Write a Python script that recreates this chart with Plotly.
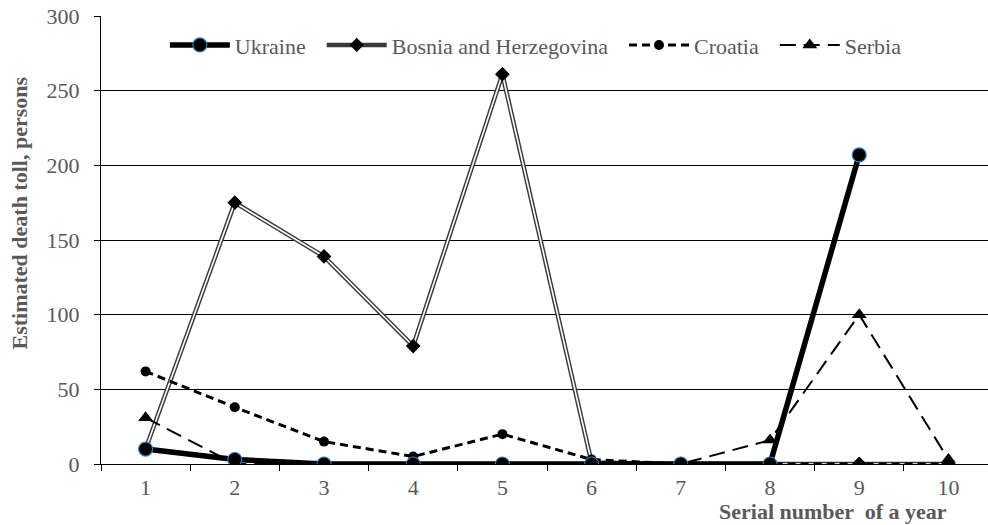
import plotly.graph_objects as go

# Serial number of a year
years = ["1", "2", "3", "4", "5", "6", "7", "8", "9", "10"]

# Estimated death toll, persons
ukraine = [10, 3, 0, 0, 0, 0, 0, 0, 207, None]
bosnia = [10, 175, 139, 79, 261, 1, 0, 0, 0, 0]
croatia = [62, 38, 15, 5, 20, 3, 0, 0, 0, 0]
serbia = [31, 0, 0, 0, 0, 0, 0, 16, 100, 3]

y_ticks = [0, 50, 100, 150, 200, 250, 300]

SERIF = "Liberation Serif, Times New Roman, serif"
GREY = "#595959"
FS = 22
PAD = "\u00a0\u00a0"  # extra spacing between legend entries

fig = go.Figure()

# Bosnia and Herzegovina: double line (dark outer stroke + white core)
fig.add_trace(go.Scatter(
    x=years, y=bosnia, name="Bosnia and Herzegovina" + PAD, mode="lines+markers",
    line=dict(color="#3a3a3a", width=4.5),
    marker=dict(symbol="diamond", size=11, color="black"),
    legendrank=2,
))
fig.add_trace(go.Scatter(
    x=years, y=bosnia, mode="lines", showlegend=False, hoverinfo="skip",
    line=dict(color="white", width=1.6),
))
fig.add_trace(go.Scatter(
    x=years, y=bosnia, mode="markers", showlegend=False, hoverinfo="skip",
    marker=dict(symbol="diamond", size=11, color="black"),
))

fig.add_trace(go.Scatter(
    x=years, y=croatia, name="Croatia" + PAD, mode="lines+markers",
    line=dict(color="black", width=3, dash="8px,5px"),
    marker=dict(symbol="circle", size=10, color="black"),
    legendrank=3,
))

fig.add_trace(go.Scatter(
    x=years, y=serbia, name="Serbia", mode="lines+markers",
    line=dict(color="black", width=2, dash="16px,8px"),
    marker=dict(symbol="triangle-up", size=13, color="black"),
    legendrank=4,
))

fig.add_trace(go.Scatter(
    x=years, y=ukraine, name="Ukraine" + PAD, mode="lines+markers",
    line=dict(color="black", width=5.5),
    marker=dict(symbol="circle", size=14, color="black",
                line=dict(color="#2f7fc1", width=1.2)),
    legendrank=1,
))

fig.update_layout(
    width=988, height=525,
    margin=dict(l=101, r=0, t=16, b=61),
    paper_bgcolor="white", plot_bgcolor="white",
    font=dict(family=SERIF, color=GREY, size=FS),
    showlegend=True,
    legend=dict(
        orientation="h", x=0.072, y=0.935, xanchor="left", yanchor="middle",
        font=dict(family=SERIF, size=FS, color=GREY),
        bgcolor="rgba(0,0,0,0)", itemwidth=60, tracegroupgap=0,
    ),
    xaxis=dict(
        type="category", range=[-0.5, 9.444],
        showgrid=False, showline=True, linecolor="black", linewidth=1,
        ticks="outside", tickson="boundaries", ticklen=6, tickcolor="black",
        tickfont=dict(family=SERIF, size=FS, color=GREY),
        ticklabelstandoff=4,
        zeroline=False,
    ),
    yaxis=dict(
        range=[0, 300], tickvals=y_ticks,
        showgrid=True, gridcolor="black", gridwidth=1,
        showline=True, linecolor="black", linewidth=1,
        ticks="outside", ticklen=6, tickcolor="black",
        tickfont=dict(family=SERIF, size=FS, color=GREY),
        ticklabelstandoff=10,
        zeroline=False,
    ),
)

# Axis titles
fig.add_annotation(
    text="<b>Estimated death toll, persons</b>", xref="paper", yref="paper",
    x=-0.092, y=0.56, xanchor="center", yanchor="middle", textangle=-90,
    showarrow=False, font=dict(family=SERIF, size=FS, color=GREY),
)
fig.add_annotation(
    text="<b>Serial number  of a year</b>", xref="paper", yref="paper",
    x=0.9555, y=-0.105, xanchor="right", yanchor="middle", showarrow=False,
    font=dict(family=SERIF, size=FS, color=GREY),
)

fig.write_html("out.html")
